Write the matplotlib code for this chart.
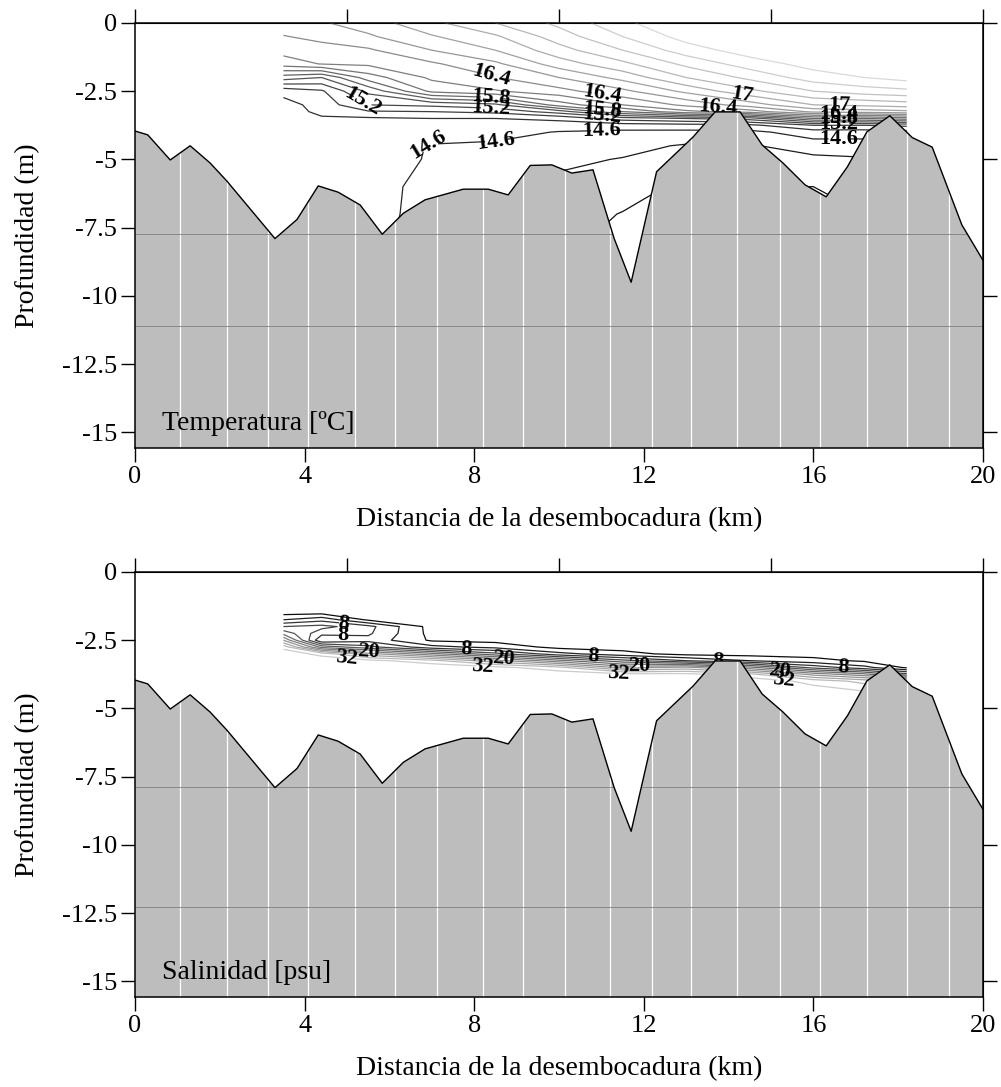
import matplotlib
matplotlib.use("Agg")
import matplotlib.pyplot as plt
import numpy as np
from matplotlib.colors import Normalize

plt.rcParams["font.family"] = ["Liberation Serif", "DejaVu Serif"]
plt.rcParams["hatch.linewidth"] = 0.4

# Bathymetry along the transect (km, m)
BATHY_X = [0.0, 0.3, 0.83, 1.3, 1.77, 2.17, 3.3, 3.82, 4.32, 4.79, 5.31, 5.83,
           6.33, 6.84, 7.74, 8.33, 8.8, 9.32, 9.83, 10.3, 10.8, 11.3, 11.7,
           12.3, 13.16, 13.68, 14.27, 14.79, 15.28, 15.8, 16.3, 16.8, 17.26,
           17.8, 18.33, 18.8, 19.5, 20.0]
BATHY_Z = [-3.96, -4.1, -5.02, -4.5, -5.13, -5.8, -7.9, -7.2, -5.97, -6.2,
           -6.67, -7.74, -6.97, -6.48, -6.09, -6.09, -6.3, -5.22, -5.2, -5.5,
           -5.38, -7.9, -9.5, -5.45, -4.18, -3.26, -3.26, -4.47, -5.13, -5.93,
           -6.37, -5.27, -3.99, -3.4, -4.2, -4.55, -7.4, -8.7]

# Stations (km)
STATIONS = [3.5, 4.4, 5.5, 7.0, 8.5, 10.0, 11.5, 13.0, 14.5, 16.0, 17.2, 18.2]

# Temperature (ºC), one list per station
DEPTH_T = [0, -0.5, -1, -1.5, -2, -2.5, -3, -3.25, -3.5, -3.75, -4, -4.5, -5,
           -6, -7, -8, -9.6]
TEMP = [
    [16.5, 16.39, 16.27, 16.1, 15.5, 14.87, 14.72, 14.72, 14.72, 14.71, 14.71, 14.7, 14.7, 14.7, 14.69, 14.69, 14.68],
    [16.58, 16.45, 16.33, 16.21, 15.4, 14.97, 14.88, 14.84, 14.78, 14.74, 14.72, 14.7, 14.7, 14.69, 14.68, 14.68, 14.67],
    [16.7, 16.57, 16.37, 16.24, 15.9, 15.45, 15.2, 14.98, 14.77, 14.72, 14.7, 14.68, 14.7, 14.66, 14.65, 14.64, 14.64],
    [16.95, 16.78, 16.6, 16.37, 16.24, 16.05, 15.25, 15.0, 14.8, 14.72, 14.67, 14.59, 14.58, 14.55, 14.55, 14.54, 14.54],
    [17.2, 16.97, 16.8, 16.56, 16.39, 16.18, 15.35, 15.05, 14.8, 14.72, 14.66, 14.57, 14.5, 14.46, 14.45, 14.44, 14.44],
    [17.45, 17.3, 17.12, 16.9, 16.6, 16.33, 15.9, 15.3, 14.85, 14.7, 14.59, 14.5, 14.44, 14.35, 14.3, 14.28, 14.26],
    [17.75, 17.6, 17.4, 17.15, 16.87, 16.55, 16.2, 15.8, 15.1, 14.7, 14.56, 14.46, 14.39, 14.3, 14.19, 14.1, 14.05],
    [18.0, 17.88, 17.7, 17.45, 17.2, 16.85, 16.45, 16.15, 15.2, 14.72, 14.55, 14.38, 14.3, 14.15, 14.1, 14.08, 14.05],
    [18.1, 18.02, 17.9, 17.7, 17.45, 17.15, 16.7, 16.3, 15.3, 14.75, 14.55, 14.38, 14.3, 14.2, 14.15, 14.1, 14.05],
    [18.2, 18.15, 18.05, 17.88, 17.7, 17.4, 17.0, 16.65, 15.8, 15.0, 14.7, 14.5, 14.35, 14.2, 14.15, 14.1, 14.05],
    [18.2, 18.18, 18.1, 17.98, 17.8, 17.5, 17.05, 16.7, 15.8, 15.0, 14.7, 14.5, 14.38, 14.25, 14.2, 14.15, 14.1],
    [18.2, 18.2, 18.15, 18.05, 17.88, 17.55, 17.1, 16.75, 15.9, 15.05, 14.72, 14.5, 14.4, 14.3, 14.25, 14.2, 14.15],
]
TEMP_LEVELS = [14.2, 14.4, 14.8, 15.0, 15.4, 15.6, 16.0, 16.2, 16.6, 16.8,
               17.2, 17.4, 17.6, 17.8]
TEMP_LABELED = [14.6, 15.2, 15.8, 16.4, 17.0]
TEMP_LABEL_POS = [(8.4, -2.0), (8.4, -2.7), (8.4, -3.15), (5.3, -3.0), (6.9, -4.45),
                  (8.5, -4.35), (11.0, -2.75), (11.0, -3.25), (11.0, -3.5),
                  (11.0, -3.85), (14.3, -2.7), (13.75, -3.05), (16.6, -3.07),
                  (16.6, -3.35), (16.6, -3.5), (16.6, -3.65), (16.6, -4.2)]

# Salinity (psu), one list per station
DEPTH_S = [0, -0.5, -1, -1.5, -1.75, -2, -2.25, -2.5, -2.75, -3, -3.25, -3.5,
           -3.75, -4, -4.5, -5, -6, -7, -8, -9.6]
SALT = [
    [0.5, 0.5, 0.6, 1.0, 5, 11, 16, 23, 31, 34, 35, 35, 35, 35, 35, 35, 35, 35, 35, 35],
    [0.5, 0.5, 0.6, 1.2, 7, 12, 9, 5, 16, 31, 34, 35, 35, 35, 35, 35, 35, 35, 35, 35],
    [0.5, 0.5, 0.6, 0.8, 1.5, 9, 8.5, 7, 12, 24, 33, 35, 35, 35, 35, 35, 35, 35, 35, 35],
    [0.5, 0.5, 0.5, 0.6, 0.7, 0.8, 1.0, 1.5, 6, 18, 30, 34.5, 35, 35, 35, 35, 35, 35, 35, 35],
    [0.5, 0.5, 0.5, 0.5, 0.6, 0.7, 0.8, 1.0, 4, 12, 24, 33, 35, 35, 35, 35, 35, 35, 35, 35],
    [0.5, 0.5, 0.5, 0.5, 0.5, 0.6, 0.7, 0.9, 1.0, 6, 18, 30, 34, 35, 35, 35, 35, 35, 35, 35],
    [0.5, 0.5, 0.5, 0.5, 0.5, 0.5, 0.6, 0.7, 0.8, 3, 12, 22, 33, 35, 35, 35, 35, 35, 35, 35],
    [0.5, 0.5, 0.5, 0.5, 0.5, 0.5, 0.5, 0.6, 0.7, 1.0, 8, 24, 33, 35, 35, 35, 35, 35, 35, 35],
    [0.5, 0.5, 0.5, 0.5, 0.5, 0.5, 0.5, 0.6, 0.7, 0.8, 5, 18, 30, 34, 35, 35, 35, 35, 35, 35],
    [0.5, 0.5, 0.5, 0.5, 0.5, 0.5, 0.5, 0.6, 0.7, 0.8, 3, 10, 22, 31, 34.3, 35, 35, 35, 35, 35],
    [0.5, 0.5, 0.5, 0.5, 0.5, 0.5, 0.5, 0.5, 0.6, 0.8, 1.5, 6, 18, 28, 33.5, 35, 35, 35, 35, 35],
    [0.5, 0.5, 0.5, 0.5, 0.5, 0.5, 0.5, 0.5, 0.5, 0.6, 0.8, 1.5, 12, 30, 34, 35, 35, 35, 35, 35],
]
SALT_LEVELS = [2, 5, 11, 14, 17, 23, 26, 29]
SALT_LABELED = [8, 20, 32]
SALT_LABEL_POS = [(4.9, -1.9), (4.9, -2.35), (5.0, -3.2), (5.5, -2.92), (7.8, -2.83),
                  (8.2, -3.46), (8.7, -3.18), (10.8, -3.09), (11.4, -3.72),
                  (11.9, -3.45), (13.75, -3.28), (15.2, -3.62), (15.3, -3.99),
                  (16.7, -3.51)]

# seams of the bottom polygon (rendering artefacts in the original)
SEAMS = [1.06, 2.17, 3.14, 4.08, 5.19, 6.13, 7.12, 8.2, 9.15, 10.14, 11.2,
         12.2, 13.1, 14.2, 15.2, 16.15, 17.26, 18.2, 19.2]

Y_TICKS = [0, -2.5, -5, -7.5, -10, -12.5, -15]
Y_TICKLABELS = ["0", "-2.5", "-5", "-7.5", "-10", "-12.5", "-15"]
X_TICKS = [0, 4, 8, 12, 16, 20]


def draw_bottom(ax, hlines):
    poly = ax.fill_between(BATHY_X, BATHY_Z, -16, facecolor="#dedede",
                           edgecolor="#bdbdbd", hatch="|" * 30, linewidth=0,
                           zorder=2)
    seams = ax.vlines(SEAMS, -16, 0, colors="white", linewidth=0.9, zorder=2.1)
    seams.set_clip_path(poly.get_paths()[0], poly.get_transform())
    hl = ax.hlines(hlines, 0, 20, colors="#808080", linewidth=0.6, zorder=2.1)
    hl.set_clip_path(poly.get_paths()[0], poly.get_transform())
    ax.plot(BATHY_X, BATHY_Z, color="black", linewidth=1.0, zorder=2.2)


def style_axes(ax, title):
    ax.set_xlim(0, 20)
    ax.set_ylim(-15.57, 0.0)
    ax.set_xticks(X_TICKS)
    ax.set_xticklabels([str(t) for t in X_TICKS])
    ax.set_yticks(Y_TICKS)
    ax.set_yticklabels(Y_TICKLABELS)
    ax.tick_params(direction="out", length=10, width=1, labelsize=19, pad=3)
    ax.set_xlabel("Distancia de la desembocadura (km)", fontsize=20, labelpad=14)
    ax.set_ylabel("Profundidad (m)", fontsize=20, labelpad=16)
    for sp in ax.spines.values():
        sp.set_linewidth(1.1)
        sp.set_zorder(5)

    top = ax.secondary_xaxis("top")
    top.set_xticks([0, 5, 10, 15, 20])
    top.tick_params(direction="out", length=10, width=1, labeltop=False)
    right = ax.secondary_yaxis("right")
    right.set_yticks([0, -5, -10, -15])
    right.tick_params(direction="out", length=10, width=1, labelright=False)

    ax.text(0.64, -14.9, title, fontsize=20, va="baseline", ha="left", zorder=6)


def draw_field(ax, depths, values, levels, norm, labeled, label_pos, fmt):
    field = np.array(values).T
    ax.contour(STATIONS, depths, field, levels=levels, cmap="gray",
               norm=norm, linewidths=0.9, zorder=1)
    # labelled isolines as a separate set, broken under their labels
    cs = ax.contour(STATIONS, depths, field, levels=labeled, cmap="gray",
                    norm=norm, linewidths=0.9, zorder=1)
    texts = ax.clabel(cs, manual=label_pos, inline=True, fmt=fmt,
                      colors="black", inline_spacing=2)
    for t in texts:
        t.set_fontsize(16)
        t.set_fontweight("bold")
        t.set_zorder(1.5)


def main():
    fig = plt.figure(figsize=(10.01, 10.87), dpi=100)
    ax1 = fig.add_axes([0.1349, 0.5879, 0.8472, 0.391])
    ax2 = fig.add_axes([0.1349, 0.0828, 0.8472, 0.391])

    draw_field(ax1, DEPTH_T, TEMP, TEMP_LEVELS, Normalize(13.9, 18.5),
               TEMP_LABELED, TEMP_LABEL_POS, "%g")
    draw_bottom(ax1, [-7.73, -11.1])
    style_axes(ax1, "Temperatura [ºC]")

    draw_field(ax2, DEPTH_S, SALT, SALT_LEVELS, Normalize(0, 40),
               SALT_LABELED, SALT_LABEL_POS, "%d")
    draw_bottom(ax2, [-7.88, -12.27])
    style_axes(ax2, "Salinidad [psu]")

    fig.savefig("out.png", dpi=100)


if __name__ == "__main__":
    main()
